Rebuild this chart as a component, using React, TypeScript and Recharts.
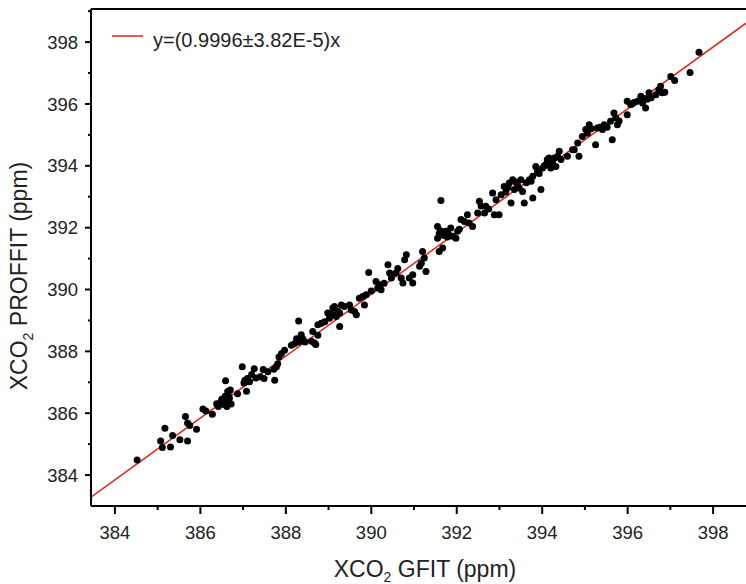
import React from 'react';
import {
	ScatterChart,
	Scatter,
	XAxis,
	YAxis,
	ReferenceLine,
} from 'recharts';

// XCO2 from GFIT (x) against XCO2 from PROFFIT (y), ppm
const gfit = [
	384.52, 385.07, 385.11, 385.17, 385.3, 385.35, 385.52, 385.65, 385.7, 385.7, 385.75, 385.91, 386.06, 386.13, 386.28,
	386.38, 386.42, 386.48, 386.5, 386.55, 386.58, 386.6, 386.62, 386.59, 386.65, 386.68, 386.7, 386.64, 386.72, 386.55, 386.62,
	386.87, 386.98, 387.02, 387.04, 387.08, 387.1, 387.15, 387.26, 387.3, 387.4, 387.47, 387.49, 387.58, 387.74, 387.72, 387.78, 387.81, 387.84, 387.9, 387.97,
	388.13, 388.2, 388.25, 388.3, 388.36, 388.3, 388.45, 388.6,
	388.63, 388.67, 388.7, 388.75, 388.75, 388.83, 388.91, 388.98, 389.02, 389.1, 389.14, 389.18, 389.26, 389.26, 389.3, 389.37, 389.49,
	389.53, 389.61, 389.65, 389.72, 389.8, 389.84, 389.88, 389.94, 390.0, 390.11, 390.15, 390.23, 390.2, 390.39, 390.43, 390.47,
	390.58, 390.62, 390.7, 390.74, 390.78, 390.82, 390.89, 390.97, 390.97, 391.13, 391.17, 391.2, 391.24, 391.28, 391.55, 391.59, 391.55, 391.59,
	391.67, 391.63, 391.7, 391.74, 391.8, 391.86, 391.9, 391.98, 392.02, 392.06, 392.1, 392.18, 392.25, 392.29, 392.37, 392.49, 392.53, 392.57,
	392.65, 392.68, 392.84, 392.88, 392.92, 392.99, 393.04, 393.11, 393.15, 393.23, 393.27, 393.31, 393.35, 393.42, 393.46, 393.5, 393.54, 393.58, 393.63, 393.7,
	393.74, 393.78, 393.78, 393.85, 393.89, 393.93, 393.97, 394.01, 394.09, 394.12, 394.16, 394.2, 394.24, 394.32, 394.36, 394.4, 394.44, 394.59, 394.71,
	394.75, 394.83, 394.86, 394.94, 395.02, 395.06, 395.1, 395.25, 395.29, 395.41, 395.45, 395.52, 395.6, 395.64, 395.68, 395.72, 395.76, 395.8,
	395.99, 395.99, 396.07, 396.15, 396.23, 396.31, 396.35, 396.42, 396.46, 396.5, 396.55, 396.66, 396.73, 396.81,
	396.77, 396.87, 397.01, 397.1, 397.46, 397.67,
	386.52, 386.66, 387.2, 388.4, 389.08, 389.22, 390.3, 391.62, 391.78, 392.75, 393.2, 393.38, 394.05, 394.28, 395.15, 395.35, 396.1, 396.38,
];

const proffit = [
	384.49, 385.1, 384.89, 385.51, 384.91, 385.28, 385.14, 385.89, 385.68, 385.1, 385.6, 385.48, 386.14, 386.07, 385.97,
	386.31, 386.22, 386.35, 386.45, 386.4, 386.55, 386.3, 386.22, 387.05, 386.62, 386.48, 386.75, 386.7, 386.3, 386.28, 386.4,
	386.63, 387.5, 386.98, 387.07, 386.71, 387.12, 387.02, 387.44, 387.14, 387.18, 387.41, 387.12, 387.34, 387.07, 387.42, 387.5, 387.6, 387.82, 387.93, 388.04,
	388.2, 388.25, 388.41, 388.98, 388.54, 388.3, 388.3, 388.33,
	388.64, 388.27, 388.22, 388.86, 388.52, 388.91, 388.96, 389.24, 389.07, 389.4, 389.45, 389.13, 388.8, 389.24, 389.5, 389.45, 389.5,
	389.34, 389.29, 389.18, 389.72, 389.77, 389.5, 389.83, 390.55, 389.95, 390.26, 390.05, 389.99, 390.15, 390.8, 390.53, 390.37,
	390.53, 390.68, 390.37, 390.21, 390.96, 391.12, 390.37, 390.48, 390.21, 390.75, 390.85, 391.23, 391.02, 390.58, 392.04, 391.82, 391.66, 391.23,
	391.34, 392.88, 391.75, 391.88, 391.8, 391.99, 391.72, 391.66, 391.88, 391.95, 392.26, 392.2, 392.42, 392.15, 392.04, 392.47, 392.85, 392.7,
	392.47, 392.69, 393.12, 392.42, 392.9, 392.42, 393.06, 393.33, 393.15, 393.44, 392.8, 393.55, 393.23, 393.38, 393.28, 393.55, 393.17, 392.8, 393.45, 393.55,
	393.5, 392.96, 393.66, 393.98, 393.82, 393.75, 393.23, 393.93, 394.04, 394.2, 394.25, 393.93, 394.1, 393.98, 394.31, 394.47, 394.2, 394.31, 394.52,
	394.52, 394.74, 394.31, 394.95, 395.17, 395.05, 395.33, 394.68, 395.22, 395.17, 395.33, 395.25, 395.44, 394.84, 395.71, 395.55, 395.33, 395.45,
	396.09, 395.65, 395.98, 396.05, 396.09, 396.25, 396.03, 395.87, 396.15, 396.36, 396.2, 396.3, 396.46, 396.36,
	396.57, 396.38, 396.89, 396.76, 397.02, 397.67,
	386.33, 386.52, 387.25, 388.4, 389.2, 389.3, 390.2, 391.9, 391.7, 392.6, 393.3, 393.48, 394.0, 394.25, 395.2, 395.25, 396.0, 396.18,
];

const xTicks = [384, 385, 386, 387, 388, 389, 390, 391, 392, 393, 394, 395, 396, 397, 398];
const yTicks = [384, 385, 386, 387, 388, 389, 390, 391, 392, 393, 394, 395, 396, 397, 398, 399];

const xDomain = [383.44, 398.77];
const yDomain = [383, 399.07];

// linear fit through origin
const fitSlope = 0.9996;
const fitLabel = 'y=(0.9996±3.82E-5)x';

const FONT = '"Liberation Sans", Arimo, Arial, sans-serif';

const points = gfit.map((x, i) => ({ x, y: proffit[i] }));

function XTick(props: any) {
	const { x, y, payload } = props;
	const major = payload.value % 2 === 0;
	return (
		<g>
			<line x1={x} x2={x} y1={y} y2={y + (major ? 8 : 4)} stroke="#000" strokeWidth={2} />
			{major && (
				<text x={x} y={y + 33} textAnchor="middle" fontSize={18.5} fontFamily={FONT} fill="#222">
					{payload.value}
				</text>
			)}
		</g>
	);
}

function YTick(props: any) {
	const { x, y, payload } = props;
	const major = payload.value % 2 === 0;
	return (
		<g>
			<line x1={x - (major ? 6 : 3)} x2={x} y1={y} y2={y} stroke="#000" strokeWidth={2} />
			{major && (
				<text x={x - 13} y={y + 6.6} textAnchor="end" fontSize={18.5} fontFamily={FONT} fill="#222">
					{payload.value}
				</text>
			)}
		</g>
	);
}

function Dot(props: any) {
	const { cx, cy } = props;
	return <circle cx={cx} cy={cy} r={3.5} fill="#000" />;
}

export default function App() {
	return (
		<div style={{ position: 'absolute', left: 0, top: 0, width: 746, height: 584, background: '#fff' }}>
			<ScatterChart
				width={746}
				height={584}
				margin={{ top: 9, right: 0, left: 0, bottom: 0 }}
			>
				<XAxis
					type="number"
					dataKey="x"
					domain={xDomain}
					ticks={xTicks}
					interval={0}
					allowDataOverflow
					height={78}
					tickSize={0}
					tickMargin={0}
					tickLine={false}
					tick={<XTick />}
					axisLine={{ stroke: '#000', strokeWidth: 2 }}
				/>
				<YAxis
					type="number"
					dataKey="y"
					domain={yDomain}
					ticks={yTicks}
					interval={0}
					allowDataOverflow
					width={91}
					tickSize={0}
					tickMargin={0}
					tickLine={false}
					tick={<YTick />}
					axisLine={{ stroke: '#000', strokeWidth: 2 }}
				/>
				<ReferenceLine y={yDomain[1]} stroke="#000" strokeWidth={2} />
				<Scatter data={points} fill="#000" shape={<Dot />} isAnimationActive={false} />
				<ReferenceLine
					segment={[
						{ x: xDomain[0], y: fitSlope * xDomain[0] },
						{ x: xDomain[1], y: fitSlope * xDomain[1] },
					]}
					stroke="#e0261c"
					strokeWidth={1.5}
					ifOverflow="hidden"
				/>
			</ScatterChart>
			<svg
				width={746}
				height={584}
				style={{ position: 'absolute', left: 0, top: 0, pointerEvents: 'none' }}
			>
				<line x1={112} x2={143} y1={36} y2={36} stroke="#e0261c" strokeWidth={1.5} />
				<text x={153} y={46.5} fontSize={20} fontFamily={FONT} fill="#222">
					{fitLabel}
				</text>
				<text x={425} y={577} textAnchor="middle" fontSize={23} fontFamily={FONT} fill="#222">
					XCO<tspan dy={5} fontSize={14}>2</tspan>
					<tspan dy={-5}> GFIT (ppm)</tspan>
				</text>
				<text
					transform="translate(27, 276) rotate(-90)"
					textAnchor="middle"
					fontSize={23}
					fontFamily={FONT}
					fill="#222"
				>
					XCO<tspan dy={6} fontSize={14}>2</tspan>
					<tspan dy={-6}> PROFFIT (ppm)</tspan>
				</text>
			</svg>
		</div>
	);
}
